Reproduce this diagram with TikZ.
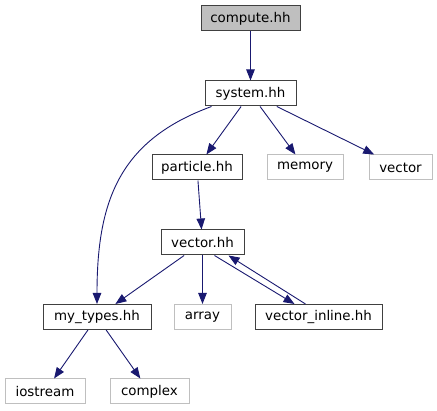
\documentclass[tikz,border=0pt]{standalone}
\usepackage{fontspec}
\setmainfont{DejaVu Sans}
\usepackage{tikz}
\usetikzlibrary{arrows.meta}

\definecolor{edgeblue}{HTML}{191970}
\definecolor{boxgray}{HTML}{BFBFBF}

\begin{document}
\begin{tikzpicture}[x=1pt, y=-1pt,
    every node/.style={font=\fontsize{13.4}{15}\selectfont, inner sep=0pt, minimum height=25pt},
    hdr/.style={draw=black!75, line width=1pt},
    sys/.style={draw=boxgray, line width=1pt},
    dep/.style={-{Triangle[length=11pt, width=8.5pt]}, draw=edgeblue, line width=0.9pt}]
  \useasboundingbox (0,0) rectangle (437,411);

  \node[hdr, fill=boxgray, minimum width=99pt] (compute) at (250.5,18.5) {compute.hh};
  \node[hdr, minimum width=91pt] (system) at (250.5,93.5) {system.hh};
  \node[hdr, minimum width=90pt] (particle) at (197,167.5) {particle.hh};
  \node[sys, minimum width=76pt] (memory) at (305,167.5) {memory};
  \node[sys, minimum width=63pt] (vector) at (400.5,167.5) {vector};
  \node[hdr, minimum width=83pt] (vectorhh) at (202.5,242.5) {vector.hh};
  \node[hdr, minimum width=108pt] (mytypes) at (97,317) {my\_types.hh};
  \node[sys, minimum width=57pt] (array) at (202.5,317) {array};
  \node[hdr, minimum width=127pt] (vinline) at (318.5,317) {vector\_inline.hh};
  \node[sys, minimum width=80pt] (iostream) at (45,391.5) {iostream};
  \node[sys, minimum width=79pt] (complex) at (149.5,391.5) {complex};

  \draw[dep] (compute) -- (system);
  \draw[dep] ([xshift=7pt]system.south west) .. controls (120,140) and (97,200) .. (mytypes.north);
  \draw[dep] (system) -- (particle);
  \draw[dep] (system) -- (memory);
  \draw[dep] (system) -- (vector);
  \draw[dep] (particle) -- (vectorhh);
  \draw[dep] (vectorhh) -- (mytypes);
  \draw[dep] (vectorhh) -- (array);
  \draw[dep] ([xshift=12pt]vectorhh.south) -- ([xshift=-24pt]vinline.north);
  \draw[dep] ([xshift=-13pt]vinline.north) -- ([xshift=26pt]vectorhh.south);
  \draw[dep] (mytypes) -- (iostream);
  \draw[dep] (mytypes) -- (complex);
\end{tikzpicture}
\end{document}
